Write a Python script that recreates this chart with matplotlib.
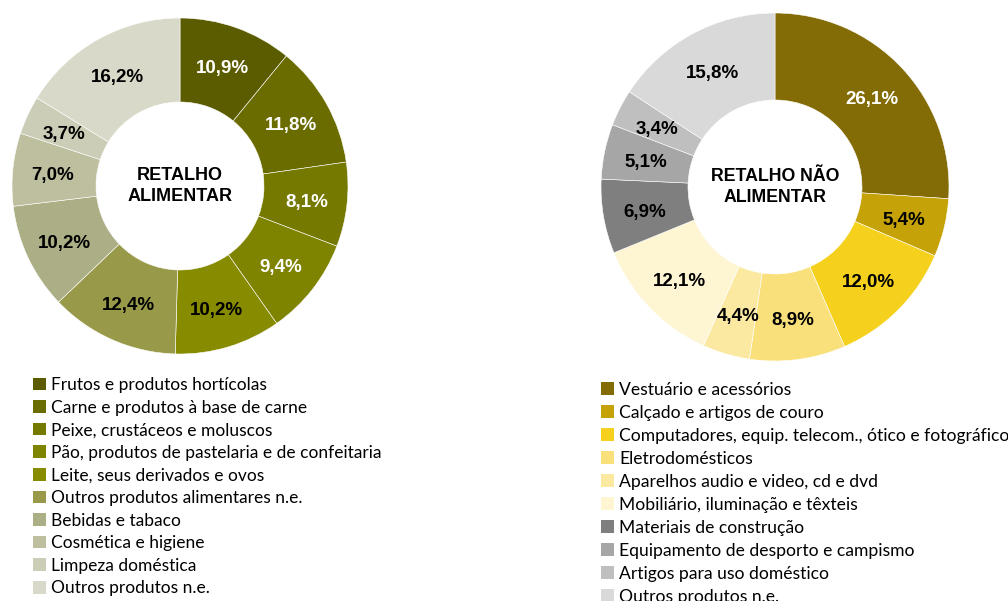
import numpy as np
import matplotlib
matplotlib.use("Agg")
import matplotlib.pyplot as plt
from matplotlib.patches import Patch

# Retalho alimentar
food_labels = ["Frutos e produtos hortícolas", "Carne e produtos à base de carne",
               "Peixe, crustáceos e moluscos", "Pão, produtos de pastelaria e de confeitaria",
               "Leite, seus derivados e ovos", "Outros produtos alimentares n.e.",
               "Bebidas e tabaco", "Cosmética e higiene", "Limpeza doméstica",
               "Outros produtos n.e."]
food_values = [10.9, 11.8, 8.1, 9.4, 10.2, 12.4, 10.2, 7.0, 3.7, 16.2]
food_colors = ["#5B5C00", "#6A6C00", "#767900", "#7E8300", "#878B00",
               "#989A4A", "#ACAE85", "#BDBF9F", "#CCCDB6", "#D9D9C9"]
food_txt = ["white"] * 4 + ["black"] * 6

# Retalho nao alimentar
nonfood_labels = ["Vestuário e acessórios", "Calçado e artigos de couro",
                  "Computadores, equip. telecom., ótico e fotográfico", "Eletrodomésticos",
                  "Aparelhos audio e video, cd e dvd", "Mobiliário, iluminação e têxteis",
                  "Materiais de construção", "Equipamento de desporto e campismo",
                  "Artigos para uso doméstico", "Outros produtos n.e."]
nonfood_values = [26.1, 5.4, 12.0, 8.9, 4.4, 12.1, 6.9, 5.1, 3.4, 15.8]
nonfood_colors = ["#836C05", "#C5A308", "#F5D11E", "#F9E07A", "#FBE9A2",
                  "#FEF5D3", "#7F7F7F", "#A6A6A6", "#BFBFBF", "#D9D9D9"]
nonfood_txt = ["white"] + ["black"] * 9

W, H = 1008, 601
fig = plt.figure(figsize=(W / 100, H / 100), dpi=100)


def donut(cx, cy, r, values, colors, txtcols, center_text, csize):
    ax = fig.add_axes([(cx - r) / W, (H - cy - r) / H, 2 * r / W, 2 * r / H])
    wedges, _ = ax.pie(values, colors=colors, startangle=90, counterclock=False,
                       radius=1, wedgeprops=dict(width=0.5, edgecolor="white", linewidth=0.4))
    for w, v, c in zip(wedges, values, txtcols):
        ang = np.deg2rad((w.theta1 + w.theta2) / 2)
        ax.text(0.76 * np.cos(ang), 0.76 * np.sin(ang) - 0.015, ("%.1f%%" % v).replace(".", ","),
                ha="center", va="center", color=c, fontsize=13.5, fontweight="bold",
                family="Liberation Sans")
    ax.text(0, 0, center_text, ha="center", va="center", fontsize=csize,
            fontweight="bold", family="Liberation Sans", linespacing=1.3)
    ax.set_xlim(-1, 1)
    ax.set_ylim(-1, 1)
    ax.axis("off")


donut(180, 186, 168, food_values, food_colors, food_txt, "RETALHO\nALIMENTAR", 13)
donut(775, 187, 174, nonfood_values, nonfood_colors, nonfood_txt, "RETALHO NÃO\nALIMENTAR", 12.8)

h1 = [Patch(facecolor=c) for c in food_colors]
fig.legend(h1, food_labels, loc="upper left", bbox_to_anchor=(33 / W, 1 - 377 / H),
           frameon=False, handlelength=0.75, handleheight=0.75, handletextpad=0.3,
           labelspacing=0.38, borderpad=0, borderaxespad=0,
           prop={"family": "Lato", "size": 12.5})
h2 = [Patch(facecolor=c) for c in nonfood_colors]
fig.legend(h2, nonfood_labels, loc="upper left", bbox_to_anchor=(601 / W, 1 - 382 / H),
           frameon=False, handlelength=0.75, handleheight=0.75, handletextpad=0.3,
           labelspacing=0.4, borderpad=0, borderaxespad=0,
           prop={"family": "Lato", "size": 12.6})

fig.savefig("out.png", dpi=100)
